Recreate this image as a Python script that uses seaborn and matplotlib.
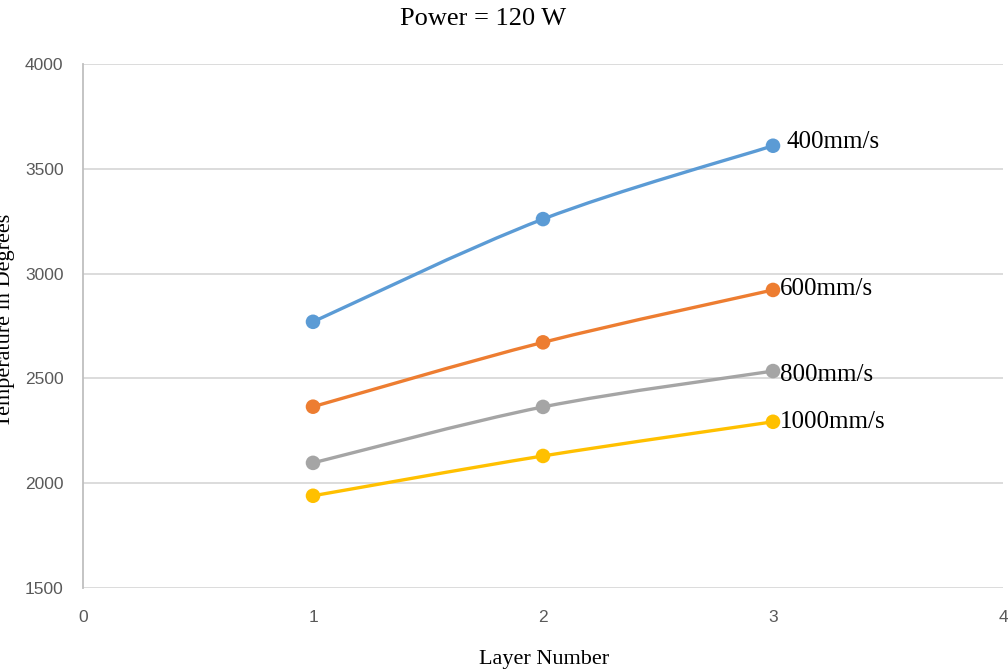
import numpy as np
import pandas as pd
import seaborn as sns
import matplotlib
matplotlib.use("Agg")
import matplotlib.pyplot as plt
from matplotlib.path import Path
from matplotlib.patches import PathPatch

# Peak temperature per layer at 120 W for each scan speed
layers = [1, 2, 3]
speed_labels = ["400mm/s", "600mm/s", "800mm/s", "1000mm/s"]
temp_400 = [2770, 3260, 3610]
temp_600 = [2365, 2672, 2922]
temp_800 = [2097, 2364, 2535]
temp_1000 = [1940, 2130, 2293]

colors = ["#5B9BD5", "#ED7D31", "#A5A5A5", "#FFC000"]
series = [temp_400, temp_600, temp_800, temp_1000]

rows = []
for lab, vals in zip(speed_labels, series):
    for x, y in zip(layers, vals):
        rows.append({"Layer": x, "Temp": y, "Speed": lab})
df = pd.DataFrame(rows)

sns.set_theme(style="white")
plt.rcParams["font.family"] = ["Liberation Serif", "DejaVu Serif"]

fig = plt.figure(figsize=(10.08, 6.70), dpi=100)
ax = fig.add_axes([83 / 1008, 1 - 588 / 670, 920 / 1008, 524 / 670])

ax.set_xlim(0, 4)
ax.set_ylim(1500, 4000)
ax.set_yticks(np.arange(1500, 4001, 500))
ax.set_xticks([0, 1, 2, 3, 4])
ax.yaxis.grid(True, color="#D9D9D9", linewidth=1.3)
ax.xaxis.grid(False)
ax.set_axisbelow(True)
for side in ["top", "right", "bottom"]:
    ax.spines[side].set_visible(False)
ax.spines["left"].set_color("#BFBFBF")
ax.spines["left"].set_linewidth(1.3)


def smooth_path(xs, ys):
    """Cubic Bezier path through the points (cardinal spline, as in office charts)."""
    pts = np.column_stack([xs, ys]).astype(float)
    n = len(pts)
    verts = [pts[0]]
    codes = [Path.MOVETO]
    for i in range(n - 1):
        p0 = pts[i - 1] if i > 0 else pts[i]
        p1 = pts[i]
        p2 = pts[i + 1]
        p3 = pts[i + 2] if i + 2 < n else pts[i + 1]
        c1 = p1 + (p2 - p0) / 6.0
        c2 = p2 - (p3 - p1) / 6.0
        verts += [c1, c2, p2]
        codes += [Path.CURVE4] * 3
    return Path(verts, codes)


for lab, vals, c in zip(speed_labels, series, colors):
    patch = PathPatch(smooth_path(layers, vals), facecolor="none",
                      edgecolor=c, linewidth=2.4, zorder=3)
    ax.add_patch(patch)

sns.scatterplot(data=df, x="Layer", y="Temp", hue="Speed",
                palette=dict(zip(speed_labels, colors)), s=110,
                edgecolor="none", legend=False, ax=ax, zorder=4)

# End-of-line labels
offsets = [(10, 3), (5, 1), (5, -3), (5, 0)]
for lab, vals, (dx, dy) in zip(speed_labels, series, offsets):
    ax.annotate(lab, xy=(layers[-1], vals[-1]), xytext=(dx, dy),
                textcoords="offset points", ha="left", va="center",
                fontsize=18, color="#000000")

tick_font = ["Liberation Sans Narrow", "Liberation Sans", "DejaVu Sans"]
for t in ax.get_xticklabels() + ax.get_yticklabels():
    t.set_fontfamily(tick_font)
    t.set_fontsize(12.5)
    t.set_color("#595959")
ax.tick_params(axis="x", length=0, pad=16)
ax.tick_params(axis="y", length=0, pad=14)

ax.set_xlabel("Layer Number", fontsize=16, color="#000000")
ax.set_ylabel("Temperature in Degrees", fontsize=16, color="#000000")
ax.xaxis.set_label_coords(0.501, -0.118)
ax.yaxis.set_label_coords(-0.074, 0.51)

fig.text(483 / 1008, 1 - 19 / 670, "Power = 120 W", ha="center", va="center",
         fontsize=19, color="#000000")

fig.savefig("out.png", dpi=100)
